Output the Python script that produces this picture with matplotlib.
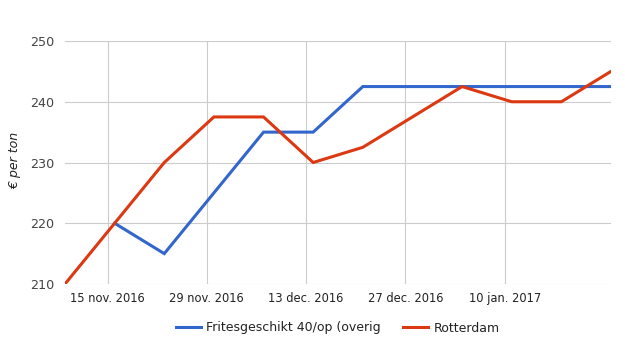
import matplotlib
matplotlib.use("Agg")
import matplotlib.pyplot as plt
import pandas as pd

dates = pd.to_datetime(["2016-11-09", "2016-11-16", "2016-11-23", "2016-11-30",
                        "2016-12-07", "2016-12-14", "2016-12-21", "2016-12-28",
                        "2017-01-04", "2017-01-11", "2017-01-18", "2017-01-25"])
frites = [None, 220, 215, 225, 235, 235, 242.5, 242.5, 242.5, 242.5, 242.5, 242.5]
rotterdam = [210, 220, 230, 237.5, 237.5, 230, 232.5, 237.5, 242.5, 240, 240, 245]
tick_dates = pd.to_datetime(["2016-11-15", "2016-11-29", "2016-12-13", "2016-12-27", "2017-01-10"])
tick_labels = ["15 nov. 2016", "29 nov. 2016", "13 dec. 2016", "27 dec. 2016", "10 jan. 2017"]
yticks = [210, 220, 230, 240, 250]

plt.rcParams['font.family'] = ['DejaVu Sans']
fig = plt.figure(figsize=(6.25, 3.55), dpi=100)
ax = fig.add_axes([65/625, 1-284/355, (611-65)/625, (284-41)/355])

fx = [d for d, v in zip(dates, frites) if v is not None]
fy = [v for v in frites if v is not None]
ax.plot(fx, fy, color="#3366CC", lw=2.2, label="Fritesgeschikt 40/op (overig", solid_joinstyle='miter', zorder=3)
ax.plot(dates, rotterdam, color="#DC3912", lw=2.2, label="Rotterdam", solid_joinstyle='miter', zorder=4)

ax.set_xlim(dates[0], dates[-1])
ax.set_ylim(210, 250)
ax.set_yticks(yticks)
ax.set_yticklabels([str(v) for v in yticks], fontsize=9.2, color="#444444")
ax.set_xticks(tick_dates)
ax.set_xticklabels(tick_labels, fontsize=8.3, color="#222222")
ax.tick_params(axis='both', length=0)
ax.tick_params(axis='y', pad=8)
ax.tick_params(axis='x', pad=6)
ax.grid(True, color="#cccccc", lw=0.8)
ax.set_axisbelow(True)
for s in ax.spines.values():
    s.set_visible(False)
ax.set_ylabel("€ per ton", fontsize=9, style='italic', color="#222222")
ax.yaxis.set_label_coords((21 - 65) / 546, 0.51)

leg = fig.legend(loc='center', bbox_to_anchor=(338/625, 1-328/355), ncol=2, frameon=False,
                 fontsize=9, handlelength=2.0, columnspacing=1.8, handletextpad=0.4)
for t in leg.get_texts():
    t.set_color("#222222")

fig.savefig("out.png", dpi=100)
